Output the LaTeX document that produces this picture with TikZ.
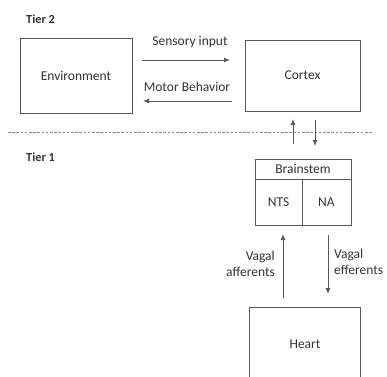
\documentclass[tikz,border=0pt]{standalone}
\usepackage{fontspec}
\setmainfont{Carlito}
\usetikzlibrary{arrows.meta}
\definecolor{ln}{HTML}{5A5A5A}
\definecolor{dl}{HTML}{8A8A8A}
\definecolor{tx}{HTML}{333333}
\begin{document}
\begin{tikzpicture}[x=1pt,y=-1pt,
  box/.style={draw=ln,line width=0.9pt,inner sep=0pt,text=tx,font=\fontsize{13.5}{15}\selectfont},
  lab/.style={text=tx,font=\fontsize{13.5}{16}\selectfont,inner sep=0pt},
  tier/.style={text=tx,font=\bfseries\fontsize{12.3}{14}\selectfont,anchor=west,inner sep=0pt},
  arr/.style={draw=ln,line width=0.9pt,-{Latex[length=6pt,width=5pt]}}]
\useasboundingbox (0,0) rectangle (387,376);
\clip (0,0) rectangle (387,376);
\fill[white] (0,0) rectangle (387,376);
\node[tier] (t2) at (26,19) {Tier 2};
\node[tier] (t1) at (26,157) {Tier 1};
\node[box,minimum width=112pt,minimum height=75pt] (env) at (76,75.5) {Environment};
\node[box,minimum width=115pt,minimum height=71pt] (ctx) at (302.5,75.5) {Cortex};
\node[lab] (si) at (190,42) {Sensory input};
\node[lab] (mb) at (187,87) {Motor Behavior};
\coordinate (s1) at (142,60); \coordinate (s2) at (230,60);
\coordinate (m1) at (232,101); \coordinate (m2) at (143,101);
\draw[arr] (s1) -- (s2);
\draw[arr] (m1) -- (m2);
\draw[dl,line width=0.9pt,dash pattern=on 2.6pt off 1.6pt] (8,132) -- (373,132);
\coordinate (u1) at (293,144); \coordinate (u2) at (293,119);
\coordinate (d1) at (315,120); \coordinate (d2) at (315,146);
\draw[arr] (u1) -- (u2);
\draw[arr] (d1) -- (d2);
\node[box,minimum width=96pt,minimum height=20pt] (bs) at (303,169) {Brainstem};
\node[box,minimum width=47pt,minimum height=46pt] (nts) at (278.5,202) {NTS};
\node[box,minimum width=49pt,minimum height=46pt] (na) at (326.5,202) {NA};
\node[box,minimum width=111pt,minimum height=80pt] (heart) at (304.5,347) {};
\node[lab] (ht) at (305,344) {Heart};
\coordinate (a1) at (283,298); \coordinate (a2) at (283,234);
\coordinate (e1) at (328,235); \coordinate (e2) at (328,294);
\draw[arr] (a1) -- (a2);
\draw[arr] (e1) -- (e2);
\node[lab,anchor=east,align=right] (va) at (275,264) {Vagal\\afferents};
\node[lab,anchor=west,align=left] (ve) at (334,262) {Vagal\\efferents};
\end{tikzpicture}
\end{document}
